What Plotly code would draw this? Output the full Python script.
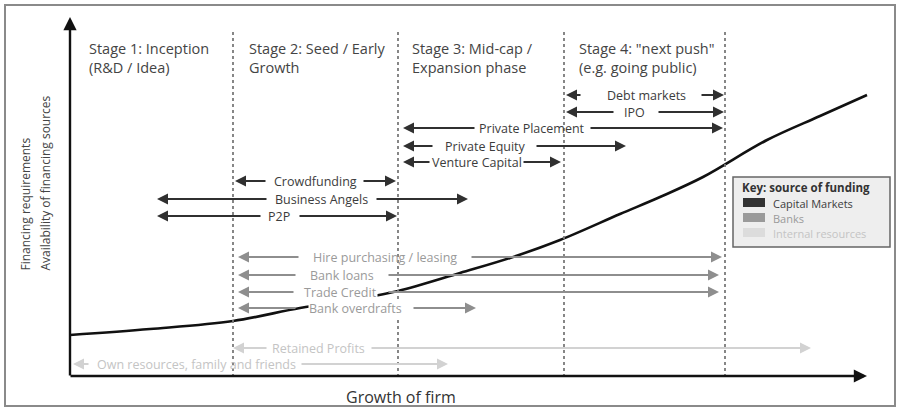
import plotly.graph_objects as go

# ---- Stages of firm growth ----
STAGE_EDGES = [233, 398, 564, 725]
STAGE_TITLES = [
    "Stage 1: Inception<br>(R&D / Idea)",
    "Stage 2: Seed / Early<br>Growth",
    "Stage 3: Mid-cap /<br>Expansion phase",
    "Stage 4: \"next push\"<br>(e.g. going public)",
]
STAGE_TITLE_X = [87, 247, 410, 577]

# ---- Financing requirement curve ----
CURVE_X = [70, 150, 233, 300, 357, 398, 460, 510, 560, 620, 660, 703, 767, 820, 867]
CURVE_Y = [335, 329, 321, 308, 299, 291, 273, 258, 240, 214, 197, 177, 140, 116, 95]

# ---- Funding sources (double-headed ranges) ----
FUND_LABELS = [
    "Debt markets", "IPO", "Private Placement", "Private Equity", "Venture Capital",
    "Crowdfunding", "Business Angels", "P2P",
    "Hire purchasing / leasing", "Bank loans", "Trade Credit", "Bank overdrafts",
    "Retained Profits", "Own resources, family and friends",
]
FUND_SOURCE = [
    "capital", "capital", "capital", "capital", "capital",
    "capital", "capital", "capital",
    "banks", "banks", "banks", "banks",
    "internal", "internal",
]
FUND_ROW = [95, 112, 128, 146, 162, 181, 199, 216, 257, 275, 292, 308, 348, 364]
FUND_START = [566, 566, 403, 403, 403, 235, 157, 157, 238, 238, 238, 238, 233, 73]
FUND_END = [724, 724, 723, 626, 561, 396, 468, 397, 722, 719, 719, 476, 811, 448]
FUND_LABEL_X = [646, 634, 532, 485, 477, 315, 321, 279, 385, 342, 340, 355, 318, 196]
FUND_GAP_L = [582, 615, 476, 434, 431, 267, 268, 262, 300, 297, 295, 297, 268, 90]
FUND_GAP_R = [700, 657, 589, 535, 522, 362, 375, 298, 470, 387, 387, 412, 370, 300]
FUND_MASK_CURVE = ["Trade Credit", "Bank overdrafts"]

# ---- Key ----
KEY_TITLE = "Key: source of funding"
KEY_LABELS = ["Capital Markets", "Banks", "Internal resources"]
KEY_SOURCES = ["capital", "banks", "internal"]
KEY_ROWS = [203, 218, 233]

LINE_COLOR = {"capital": "#303030", "banks": "#8e8e8e", "internal": "#d2d2d2"}
TEXT_COLOR = {"capital": "#3c3c3c", "banks": "#9a9a9a", "internal": "#c4c4c4"}
SWATCH_COLOR = {"capital": "#333333", "banks": "#9a9a9a", "internal": "#dcdcdc"}

W, H = 899, 410
FONT = "Open Sans"

fig = go.Figure()

# financing requirement curve
fig.add_trace(go.Scatter(
    x=CURVE_X, y=CURVE_Y, mode="lines",
    line=dict(color="#111111", width=2.6, shape="spline", smoothing=1.0),
    hoverinfo="skip", showlegend=False,
))

shapes = []
annotations = []

# outer frame
shapes.append(dict(type="rect", xref="x", yref="y", x0=5, y0=5, x1=895, y1=406,
                   line=dict(color="#8a8a8a", width=2), fillcolor="rgba(0,0,0,0)"))

# stage boundaries
for xe in STAGE_EDGES:
    shapes.append(dict(type="line", xref="x", yref="y", x0=xe, x1=xe, y0=32, y1=376,
                       line=dict(color="#7a7a7a", width=1.8, dash="dot")))

# stage titles
for tx, title in zip(STAGE_TITLE_X, STAGE_TITLES):
    annotations.append(dict(x=tx, y=58, xref="x", yref="y", text=title, showarrow=False,
                            xanchor="left", yanchor="middle", align="left",
                            font=dict(family=FONT, size=14.5, color="#444444")))

# axes with arrow heads
annotations.append(dict(x=70, y=17, ax=70, ay=377, xref="x", yref="y", axref="x", ayref="y",
                        text="", showarrow=True, arrowhead=2, arrowsize=1.1, arrowwidth=2.4,
                        arrowcolor="#111111"))
annotations.append(dict(x=867, y=376, ax=69, ay=376, xref="x", yref="y", axref="x", ayref="y",
                        text="", showarrow=True, arrowhead=2, arrowsize=1.1, arrowwidth=2.4,
                        arrowcolor="#111111"))

# axis titles
annotations.append(dict(x=401, y=397, xref="x", yref="y", text="Growth of firm", showarrow=False,
                        font=dict(family=FONT, size=16, color="#333333")))
annotations.append(dict(x=25, y=273, xref="x", yref="y", text="Financing requirements",
                        showarrow=False, textangle=-90, xanchor="center", yanchor="bottom",
                        font=dict(family=FONT, size=12, color="#444444")))
annotations.append(dict(x=45, y=273, xref="x", yref="y", text="Availability of financing sources",
                        showarrow=False, textangle=-90, xanchor="center", yanchor="bottom",
                        font=dict(family=FONT, size=12, color="#444444")))

# funding ranges
for lab, src, yr, x0, x1, lx, gl, gr in zip(FUND_LABELS, FUND_SOURCE, FUND_ROW, FUND_START,
                                            FUND_END, FUND_LABEL_X, FUND_GAP_L, FUND_GAP_R):
    col = LINE_COLOR[src]
    for head, tail in ((x0, gl), (x1, gr)):
        annotations.append(dict(x=head, y=yr, ax=tail, ay=yr, xref="x", yref="y",
                                axref="x", ayref="y", text="", showarrow=True,
                                arrowhead=2, arrowsize=1.0, arrowwidth=2.2, arrowcolor=col))
    annotations.append(dict(x=lx, y=yr, xref="x", yref="y", text=lab, showarrow=False,
                            bgcolor="white" if lab in FUND_MASK_CURVE else "rgba(0,0,0,0)",
                            borderpad=0,
                            font=dict(family=FONT, size=12.5, color=TEXT_COLOR[src])))

# key box
shapes.append(dict(type="rect", xref="x", yref="y", x0=733, y0=177, x1=890, y1=247,
                   line=dict(color="#666666", width=1.5), fillcolor="#eeeeee"))
annotations.append(dict(x=740, y=187, xref="x", yref="y", text="<b>" + KEY_TITLE + "</b>",
                        showarrow=False, xanchor="left",
                        font=dict(family=FONT, size=11.5, color="#333333")))
for lab, src, yr in zip(KEY_LABELS, KEY_SOURCES, KEY_ROWS):
    shapes.append(dict(type="rect", xref="x", yref="y", x0=743, x1=765, y0=yr - 5, y1=yr + 4,
                       line=dict(width=0), fillcolor=SWATCH_COLOR[src]))
    annotations.append(dict(x=771, y=yr, xref="x", yref="y", text=lab, showarrow=False,
                            xanchor="left",
                            font=dict(family=FONT, size=11, color=TEXT_COLOR[src])))

fig.update_layout(
    width=W, height=H,
    margin=dict(l=0, r=0, t=0, b=0),
    paper_bgcolor="white", plot_bgcolor="white",
    xaxis=dict(range=[0, W], visible=False, fixedrange=True),
    yaxis=dict(range=[H, 0], visible=False, fixedrange=True),
    shapes=shapes, annotations=annotations,
    showlegend=False,
)

fig.write_html("out.html")
